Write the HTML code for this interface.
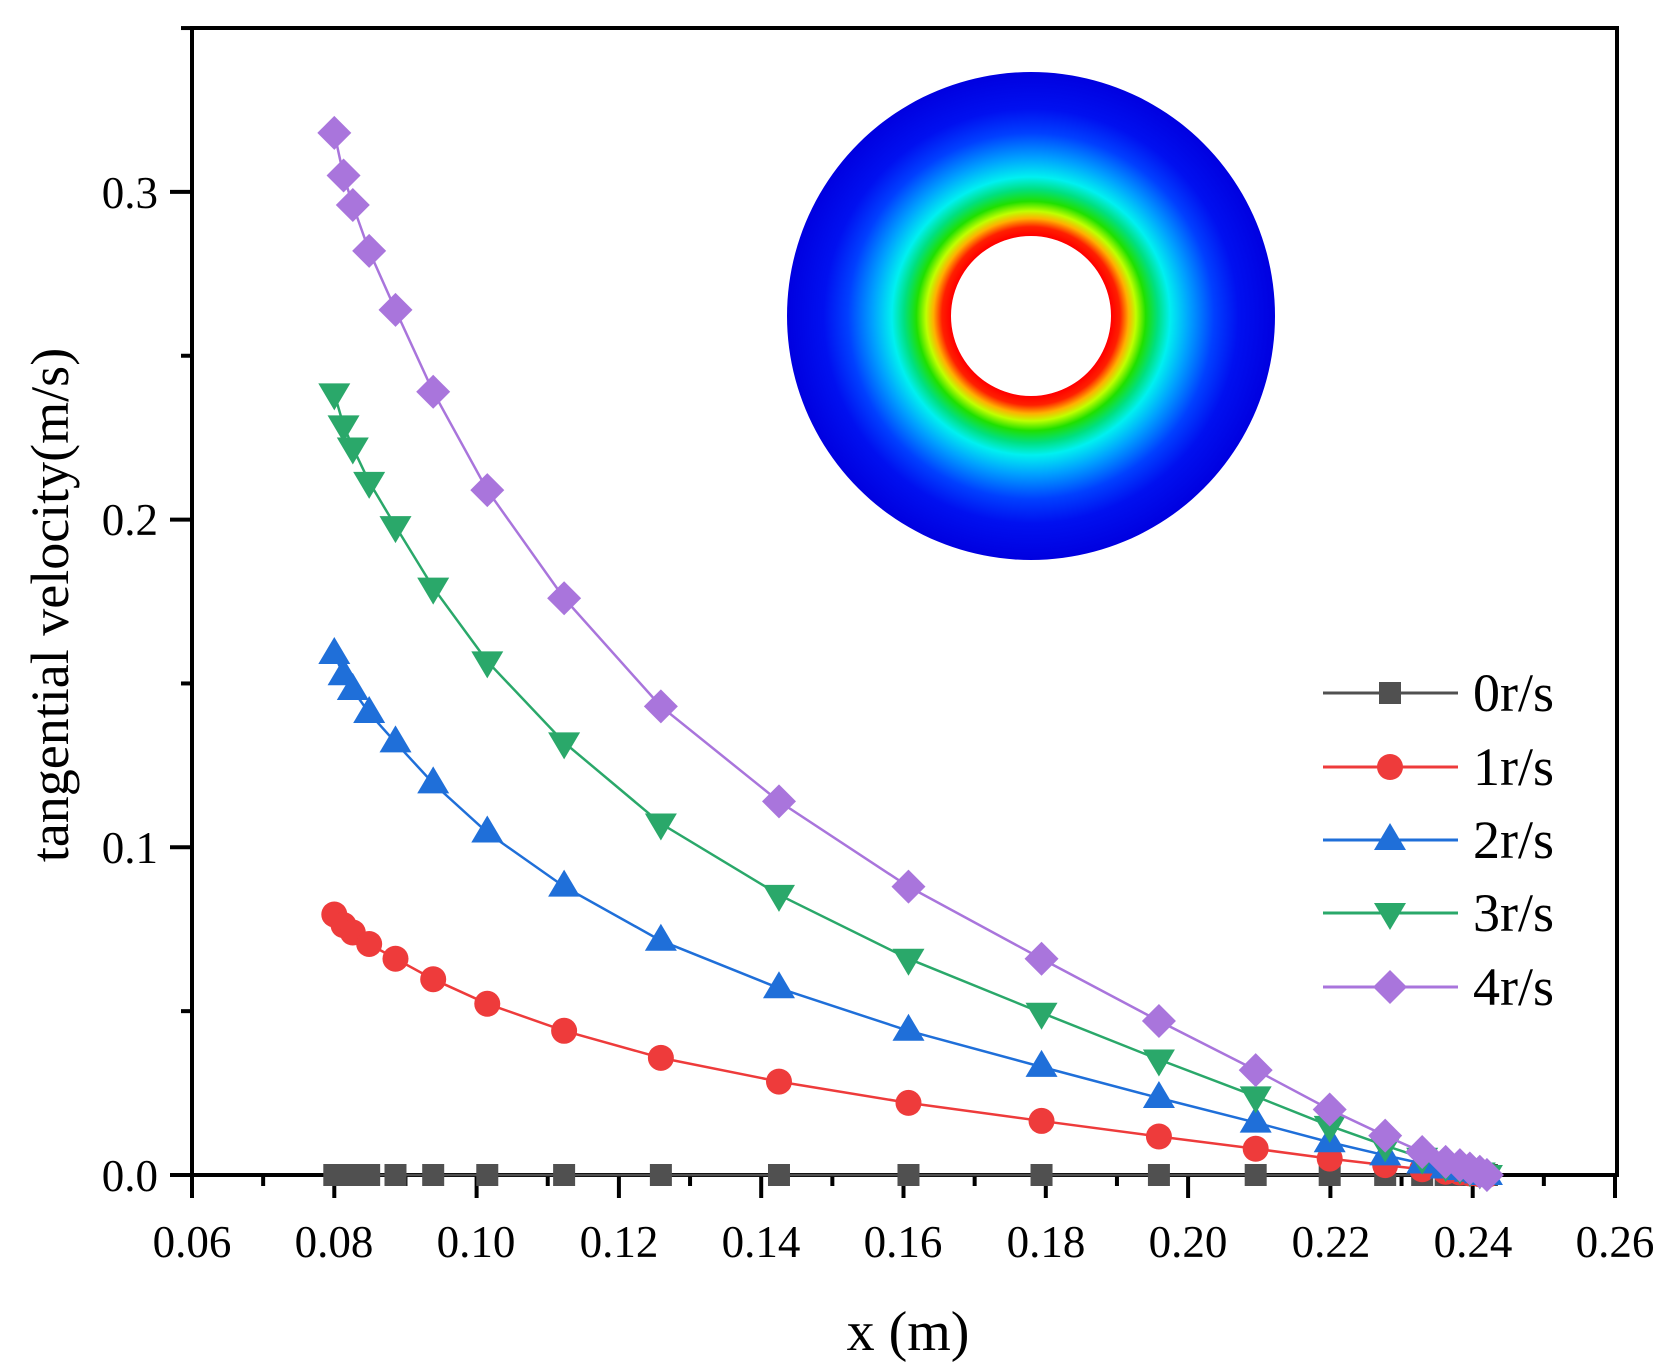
<!DOCTYPE html>
<html><head><meta charset="utf-8"><style>html,body{margin:0;padding:0;background:#fff}svg{display:block}text{font-family:"Liberation Serif","Times New Roman",serif;fill:#000}</style></head>
<body>
<svg id="s" width="1670" height="1368" viewBox="0 0 1670 1368" xmlns="http://www.w3.org/2000/svg">
<defs>
<radialGradient id="g" cx="1031" cy="316" r="244" gradientUnits="userSpaceOnUse">
<stop offset="0.33" stop-color="#ff0000"/>
<stop offset="0.365" stop-color="#ff2000"/>
<stop offset="0.40" stop-color="#ffb000"/>
<stop offset="0.43" stop-color="#c0ff00"/>
<stop offset="0.47" stop-color="#20e000"/>
<stop offset="0.52" stop-color="#00e080"/>
<stop offset="0.57" stop-color="#00f0f0"/>
<stop offset="0.65" stop-color="#00a0ff"/>
<stop offset="0.75" stop-color="#0040ff"/>
<stop offset="0.85" stop-color="#0010f0"/>
<stop offset="1" stop-color="#0000e0"/>
</radialGradient>
</defs>
<path d="M1031,72 a244,244 0 1,0 0.01,0 Z M1031,236 a80,80 0 1,1 -0.01,0 Z" fill="url(#g)" fill-rule="evenodd"/>
<g stroke="#000" stroke-width="4" fill="none">
<rect x="192" y="28" width="1425" height="1147"/>
</g>
<g id="ticks" stroke="#000" stroke-width="4"></g>
<g font-size="45" text-anchor="middle">
<text x="192" y="1257">0.06</text><text x="334" y="1257">0.08</text><text x="476" y="1257">0.10</text><text x="619" y="1257">0.12</text><text x="761" y="1257">0.14</text><text x="903" y="1257">0.16</text><text x="1046" y="1257">0.18</text><text x="1188" y="1257">0.20</text><text x="1331" y="1257">0.22</text><text x="1473" y="1257">0.24</text><text x="1615" y="1257">0.26</text>
</g>
<g font-size="45" text-anchor="end">
<text x="158" y="1191">0.0</text><text x="158" y="863">0.1</text><text x="158" y="535">0.2</text><text x="158" y="208">0.3</text>
</g>
<text x="908" y="1350" font-size="56" text-anchor="middle">x (m)</text>
<text transform="translate(68,605) rotate(-90)" font-size="54" text-anchor="middle">tangential velocity(m/s)</text>
<g id="series"></g>
<g font-size="54">
<text x="1473" y="711">0r/s</text><text x="1473" y="785">1r/s</text><text x="1473" y="858">2r/s</text><text x="1473" y="931">3r/s</text><text x="1473" y="1005">4r/s</text>
</g>
</svg>
<script>
var NS="http://www.w3.org/2000/svg",s=document.getElementById('series'),tk=document.getElementById('ticks');
function el(t,a,p){var e=document.createElementNS(NS,t);for(var k in a)e.setAttribute(k,a[k]);(p||s).appendChild(e);return e;}
function X(x){return 192+(x-0.06)/0.02*142.3;}
function Y(v){return 1175-v/0.1*327.7;}
for(var i=0;i<=20;i++){var x=192+i*71.15;el('line',{x1:x,y1:1175,x2:x,y2:i%2?1186:1198},tk);}
for(var i=0;i<=7;i++){var y=1175-i*163.85;el('line',{x1:192,y1:y,x2:i%2?181:170,y2:y},tk);}
var xs=[0.08,0.0813,0.0826,0.0849,0.0886,0.0939,0.1015,0.1123,0.1259,0.1425,0.1607,0.1794,0.1959,0.2095,0.2199,0.2277,0.2329,0.2362,0.2382,0.2396,0.2410,0.242];
var v4=[0.318,0.305,0.296,0.282,0.264,0.239,0.209,0.176,0.143,0.114,0.088,0.066,0.047,0.032,0.020,0.012,0.007,0.004,0.003,0.002,0.001,0];
var cols=['#505050','#ee3b3b','#1f6fd9','#2aa86a','#a975dc'];
function mk(k,x,y,c){
 if(k==0)el('rect',{x:x-11,y:y-11,width:22,height:22,fill:c});
 else if(k==1)el('circle',{cx:x,cy:y,r:13,fill:c});
 else if(k==2)el('polygon',{points:(x)+','+(y-17)+' '+(x-16)+','+(y+10)+' '+(x+16)+','+(y+10),fill:c});
 else if(k==3)el('polygon',{points:(x)+','+(y+17)+' '+(x-16)+','+(y-10)+' '+(x+16)+','+(y-10),fill:c});
 else el('polygon',{points:x+','+(y-17)+' '+(x+17)+','+y+' '+x+','+(y+17)+' '+(x-17)+','+y,fill:c});
}
for(var k=0;k<5;k++){
 var pts=xs.map(function(x,i){return [X(x),Y(v4[i]*k/4)];});
 el('polyline',{points:pts.map(function(p){return p.join(',')}).join(' '),fill:'none',stroke:cols[k],'stroke-width':2.5});
 pts.forEach(function(p){mk(k,p[0],p[1],cols[k]);});
 var ly=[693,767,840,913,987][k];
 el('line',{x1:1323,y1:ly,x2:1458,y2:ly,stroke:cols[k],'stroke-width':3});
 mk(k,1390,ly,cols[k]);
}
</script>
</body></html>
